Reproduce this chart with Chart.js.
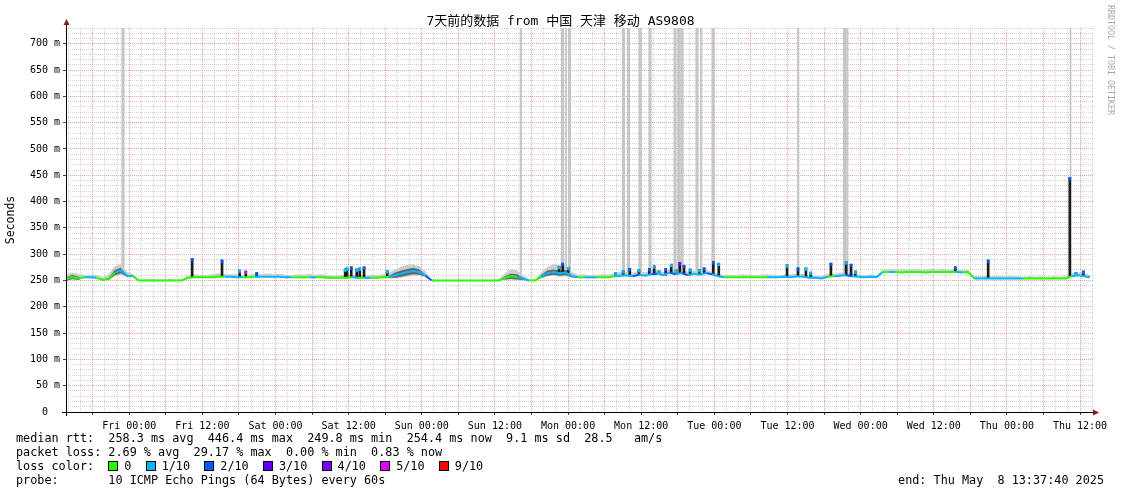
<!DOCTYPE html>
<html lang="zh-CN">
<head>
<meta charset="UTF-8">
<meta name="viewport" content="width=device-width, initial-scale=1.0">
<title>7天前的数据 from 中国 天津 移动 AS9808</title>
<script src="https://cdn.jsdelivr.net/npm/chart.js@4.4.1/dist/chart.umd.min.js"></script>
<style>
    html, body { margin: 0; padding: 0; background: #fff; }
    body { position: relative; width: 1121px; height: 494px; overflow: hidden;
           font-family: "DejaVu Sans Mono", "Noto Sans CJK SC", monospace; color: #000; }
    #chart { position: absolute; left: 0; top: 0; }
    .title { position: absolute; left: 0; top: 13px; width: 1121px; text-align: center;
             font-size: 13px; line-height: 16px; white-space: pre; }
    .brand { position: absolute; left: 1106px; top: 5px; writing-mode: vertical-rl;
             font-size: 8.3px; line-height: 10px; color: #a8a8a8; white-space: pre; }
    .legend { position: absolute; left: 16px; top: 431px; font-size: 11.8px; line-height: 14px; }
    .legend div { white-space: pre; height: 14px; }
    .sw { display: inline-block; width: 10px; height: 10px; box-sizing: border-box;
          border: 1px solid #000; margin-right: 6px; vertical-align: -1px; }
    .end { position: absolute; right: 17px; top: 473px; font-size: 11.8px; line-height: 14px; white-space: pre; }
</style>
</head>
<body>
<canvas id="chart" width="1121" height="494"></canvas>
<div class="title">7天前的数据 from 中国 天津 移动 AS9808</div>
<div class="brand">RRDTOOL / TOBI OETIKER</div>
<div class="legend">
    <div>median rtt:  258.3 ms avg  446.4 ms max  249.8 ms min  254.4 ms now  9.1 ms sd  28.5   am/s</div>
    <div>packet loss: 2.69 % avg  29.17 % max  0.00 % min  0.83 % now</div>
    <div id="lossRow">loss color:  </div>
    <div>probe:       10 ICMP Echo Pings (64 Bytes) every 60s</div>
</div>
<div class="end">end: Thu May  8 13:37:40 2025</div>

<script>
// x = hours since Thu May 1 13:37:40 2025 (end Thu May 8 13:37:40), one value per hour, 12 per row
const medianRtt = [
    252,257,254,256,256,255,251,253,265,269,259,258,
    250,250,250,250,250,250,250,250,255,256,256,256,
    256,257,257,257,256,256,256,257,257,257,257,257,
    256,256,256,256,256,256,256,255,255,255,255,256,
    255,255,255,255,256,257,260,263,266,268,266,259,
    250,250,250,250,250,250,250,250,250,250,250,250,
    255,258,257,253,250,250,258,264,266,264,265,258,
    256,256,256,256,256,256,258,259,260,258,261,259,
    262,263,260,265,262,264,260,263,261,264,262,258,
    256,256,256,256,256,256,256,256,256,256,257,256,
    258,257,255,255,254,257,258,259,260,258,257,256,
    257,256,266,266,266,265,266,266,266,265,266,266,
    266,266,266,265,266,254,254,254,254,254,254,254,
    254,254,254,254,254,254,254,254,254,258,260,258,
    256
];

// loss step per hour: 0 = 0, 1 = 1/10, 2 = 2/10, 3 = 3/10 ...
const lossStep = [
    0,0,0,1,1,0,0,0,1,1,1,0,
    0,0,0,0,0,0,0,0,0,0,0,0,
    0,0,1,1,1,0,0,1,1,1,1,1,
    1,0,0,0,1,0,0,0,0,0,0,1,
    0,1,0,0,0,1,1,1,1,1,1,2,
    0,0,0,0,0,0,0,0,0,0,0,0,
    0,0,1,1,0,0,1,1,1,1,1,1,
    0,1,1,0,0,0,1,1,1,2,1,1,
    2,1,1,2,1,2,1,1,1,2,1,1,
    0,0,0,0,0,0,0,1,1,1,1,1,
    1,1,1,1,1,0,1,1,2,1,1,1,
    1,1,0,1,0,0,0,0,0,0,0,0,
    0,0,1,0,0,1,1,1,1,1,1,1,
    1,0,0,0,0,0,0,0,0,1,1,1,
    1
];

// smoke: ms above / below the median, and the dark core half width
const smokeAbove = [
    9,8,9,5,5,6,5,9,12,12,7,4,
    2,2,3,2,2,3,2,2,5,6,5,4,
    6,7,5,5,6,4,5,6,5,7,5,6,
    5,4,6,5,7,5,6,5,4,5,6,5,
    7,5,6,5,6,8,11,13,14,13,11,8,
    2,1,2,1,2,1,2,1,2,1,2,2,
    9,14,12,7,2,2,8,12,15,15,14,8,
    5,6,4,5,6,5,6,7,6,7,8,6,
    7,8,6,7,8,6,7,6,7,6,5,5,
    4,5,4,6,5,4,5,6,5,4,5,6,
    5,6,5,4,5,6,5,6,5,6,5,4,
    5,4,5,6,5,7,5,6,5,6,7,5,
    6,5,6,5,4,5,4,5,4,5,4,5,
    4,3,4,3,4,3,4,3,4,6,5,6,
    5
];
const smokeBelow = [
    4,5,4,1,1,1,1,3,7,8,3,1,
    0,0,0,0,0,0,0,0,1,1,1,1,
    1,1,1,1,1,1,1,1,1,1,1,1,
    1,1,1,1,1,1,1,1,1,1,1,1,
    1,1,1,1,1,3,6,8,9,9,7,3,
    0,0,0,0,0,0,0,0,0,0,0,0,
    4,6,6,3,0,0,4,6,7,7,7,3,
    1,1,1,1,1,1,1,1,1,1,1,1,
    1,1,1,1,1,1,1,1,1,1,1,1,
    1,1,1,1,1,1,1,1,1,1,1,1,
    1,1,1,1,1,1,1,1,1,1,1,1,
    1,1,1,1,1,1,1,1,1,1,1,1,
    1,1,1,1,1,1,1,1,1,1,1,1,
    1,1,1,1,1,1,1,1,1,1,1,1,
    1
];
const smokeCore = [
    3,4,3,0,0,0,0,2,5,5,2,0,
    0,0,0,0,0,0,0,0,0,0,0,0,
    0,0,0,0,0,0,0,0,0,0,0,0,
    0,0,0,0,0,0,0,0,0,0,0,0,
    0,0,0,0,0,2,5,6,6,6,5,2,
    0,0,0,0,0,0,0,0,0,0,0,0,
    3,5,5,2,0,0,3,5,5,5,5,2,
    0,0,0,0,0,0,0,0,0,0,0,0,
    0,0,0,0,0,0,0,0,0,0,0,0,
    0,0,0,0,0,0,0,0,0,0,0,0,
    0,0,0,0,0,0,0,0,0,0,0,0,
    0,0,0,0,0,0,0,0,0,0,0,0,
    0,0,0,0,0,0,0,0,0,0,0,0,
    0,0,0,0,0,0,0,0,0,0,0,0,
    0
];

// short rtt spikes: [hour, peak ms, loss step]
const spikes = [
    [20.7, 292, 2], [25.6, 289, 2], [28.5, 270, 1], [29.5, 268, 5], [31.3, 265, 2],
    [45.8, 272, 1], [46.1, 274, 1], [46.8, 276, 2], [47.7, 272, 1], [48.2, 274, 1],
    [48.9, 276, 2], [52.7, 269, 1], [80.9, 277, 1], [81.5, 283, 2], [82.4, 275, 1],
    [90.2, 265, 1], [91.4, 269, 1], [92.5, 273, 2], [94.0, 271, 1], [95.7, 273, 2],
    [96.5, 278, 1], [97.3, 268, 1], [98.4, 273, 2], [99.3, 281, 1], [100.1, 270, 1],
    [100.7, 284, 3], [101.4, 279, 2], [102.4, 272, 1], [103.9, 271, 1], [104.7, 274, 2],
    [106.2, 286, 2], [107.1, 283, 1], [118.3, 280, 1], [120.1, 274, 2], [121.4, 274, 1],
    [122.2, 266, 1], [125.5, 283, 2], [128.0, 286, 1], [128.8, 281, 2], [129.5, 268, 1],
    [145.9, 276, 2], [151.3, 289, 2], [164.7, 446, 2], [165.7, 265, 1], [166.9, 268, 2]
];

// pings off the top of the graph (hours)
const outliersWide = [9.35, 81.46, 82.61, 91.47, 92.29, 94.18, 95.82, 99.92, 100.57, 101.07, 103.53, 106.15, 127.73];
const outliersThin = [74.65, 82.03, 104.18, 120.10, 128.14, 164.81];

const tickLabels = ['Fri 00:00', 'Fri 12:00', 'Sat 00:00', 'Sat 12:00', 'Sun 00:00', 'Sun 12:00', 'Mon 00:00',
                    'Mon 12:00', 'Tue 00:00', 'Tue 12:00', 'Wed 00:00', 'Wed 12:00', 'Thu 00:00', 'Thu 12:00'];
const lossLabels = ['0', '1/10', '2/10', '3/10', '4/10', '5/10', '9/10'];
const lossColors = ['#26ff00', '#00b8ff', '#0059ff', '#5e00ff', '#7e00ff', '#dd00ff', '#ff0000'];

const Y_MAX = 730;
const X_MAX = 168.5;
const RED = 'rgba(235,120,120,0.7)';
const GRAY = 'rgba(150,150,150,0.4)';
const MONO = 'DejaVu Sans Mono';

// legend swatches
const lossRow = document.getElementById('lossRow');
lossLabels.forEach((lab, i) => {
    const sw = document.createElement('span');
    sw.className = 'sw';
    sw.style.background = lossColors[i];
    lossRow.appendChild(sw);
    lossRow.appendChild(document.createTextNode(lab + '  '));
});

// grid every 2h, first at 14:00 (22m20s after start)
const firstGridHour = 22 / 60 + 20 / 3600;
const gridTicks = [];
for (let k = 0; firstGridHour + 2 * k <= X_MAX; k++) {
    gridTicks.push({ value: firstGridHour + 2 * k, clock: (14 + 2 * k) % 24 });
}
let labelNo = 0;
gridTicks.forEach(t => { t.label = t.clock % 12 === 0 ? (tickLabels[labelNo++] || '') : ''; });
const isMajorX = c => gridTicks[c.index] && gridTicks[c.index].clock % 6 === 0;
const isMajorY = c => c.tick && c.tick.value % 50 === 0;

const baseAt = h => medianRtt[Math.round(h)];
const around = (arr, sign) => medianRtt.map((v, i) => ({ x: i, y: v + sign * arr[i] }));

const rrdAxes = {
    id: 'rrdAxes',
    afterDatasetsDraw(chart) {
        const { ctx, chartArea: a } = chart;
        ctx.save();
        ctx.strokeStyle = '#000';
        ctx.lineWidth = 1;
        ctx.beginPath();
        ctx.moveTo(a.left + 0.5, a.bottom + 4);
        ctx.lineTo(a.left + 0.5, a.top - 4);
        ctx.moveTo(a.left - 4, a.bottom + 0.5);
        ctx.lineTo(a.right + 1, a.bottom + 0.5);
        ctx.stroke();
        ctx.fillStyle = '#8b1a1a';
        ctx.beginPath();
        ctx.moveTo(a.left + 0.5, a.top - 9);
        ctx.lineTo(a.left - 2.5, a.top - 3);
        ctx.lineTo(a.left + 3.5, a.top - 3);
        ctx.fill();
        ctx.beginPath();
        ctx.moveTo(a.right + 6, a.bottom + 0.5);
        ctx.lineTo(a.right, a.bottom - 2.5);
        ctx.lineTo(a.right, a.bottom + 3.5);
        ctx.fill();
        ctx.restore();
    }
};

new Chart(document.getElementById('chart'), {
    type: 'line',
    data: {
        datasets: [
            {
                type: 'bar', label: 'outliers',
                data: outliersWide.map(h => ({ x: h, y: [baseAt(h), Y_MAX] })),
                backgroundColor: '#c6c6c6', barThickness: 2.5, grouped: false, order: 10
            },
            {
                type: 'bar', label: 'outliers thin',
                data: outliersThin.map(h => ({ x: h, y: [baseAt(h), Y_MAX] })),
                backgroundColor: '#c0c0c0', barThickness: 1, grouped: false, order: 10
            },
            {
                label: 'smoke low', data: around(smokeBelow, -1),
                borderColor: 'rgba(0,0,0,0)', borderWidth: 0, pointRadius: 0, fill: false, order: 9
            },
            {
                label: 'smoke high', data: around(smokeAbove, 1),
                borderColor: 'rgba(0,0,0,0)', borderWidth: 0, pointRadius: 0,
                fill: '-1', backgroundColor: '#cdcdcd', order: 8
            },
            {
                label: 'core low', data: around(smokeCore, -1),
                borderColor: 'rgba(0,0,0,0)', borderWidth: 0, pointRadius: 0, fill: false, order: 7
            },
            {
                label: 'core high', data: around(smokeCore, 1),
                borderColor: 'rgba(0,0,0,0)', borderWidth: 0, pointRadius: 0,
                fill: '-1', backgroundColor: 'rgba(45,45,45,0.65)', order: 6
            },
            {
                type: 'bar', label: 'spikes',
                data: spikes.map(s => ({ x: s[0], y: [baseAt(s[0]), s[1]] })),
                backgroundColor: '#1c1c1c', barThickness: 2, grouped: false, order: 5
            },
            {
                label: 'median rtt', data: medianRtt.map((v, i) => ({ x: i, y: v })),
                borderColor: lossColors[0], borderWidth: 2, pointRadius: 0, tension: 0, fill: false,
                segment: { borderColor: c => lossColors[lossStep[c.p0DataIndex]] },
                order: 4
            },
            {
                type: 'bar', label: 'spike loss',
                data: spikes.map(s => ({ x: s[0], y: [s[1] - 5, s[1]] })),
                backgroundColor: spikes.map(s => lossColors[s[2]]),
                barThickness: 2, grouped: false, order: 3
            }
        ]
    },
    options: {
        responsive: false,
        animation: false,
        devicePixelRatio: 1,
        events: [],
        layout: { padding: { top: 28, right: 28, left: 0, bottom: 0 } },
        plugins: {
            legend: { display: false },
            tooltip: { enabled: false },
            title: { display: false }
        },
        scales: {
            x: {
                type: 'linear', min: 0, max: X_MAX, offset: false,
                afterBuildTicks: axis => { axis.ticks = gridTicks.map(t => ({ value: t.value })); },
                afterFit: axis => { axis.height = 82; },
                grid: {
                    offset: false, lineWidth: 1,
                    color: c => isMajorX(c) ? RED : GRAY,
                    tickLength: 3, tickBorderDash: [],
                    tickColor: c => isMajorX(c) ? '#444' : 'rgba(0,0,0,0)'
                },
                border: { display: false, dash: [1, 1] },
                ticks: {
                    autoSkip: false, maxRotation: 0, minRotation: 0, padding: 5,
                    color: '#000', font: { family: MONO, size: 10 },
                    callback: (v, i) => gridTicks[i] ? gridTicks[i].label : ''
                }
            },
            y: {
                type: 'linear', min: 0, max: Y_MAX,
                afterFit: axis => { axis.width = 66; },
                grid: {
                    lineWidth: 1,
                    color: c => isMajorY(c) ? RED : GRAY,
                    tickLength: 3, tickBorderDash: [],
                    tickColor: c => isMajorY(c) ? '#444' : 'rgba(0,0,0,0)'
                },
                border: { display: false, dash: [1, 1] },
                ticks: {
                    stepSize: 10, autoSkip: false, padding: 3,
                    color: '#000', font: { family: MONO, size: 10 },
                    callback: v => v % 50 ? '' : (v === 0 ? '0  ' : v + ' m')
                },
                title: {
                    display: true, text: 'Seconds', color: '#000',
                    font: { family: MONO, size: 11.5 }, padding: { top: 4, bottom: 0 }
                }
            }
        }
    },
    plugins: [rrdAxes]
});
</script>
</body>
</html>
